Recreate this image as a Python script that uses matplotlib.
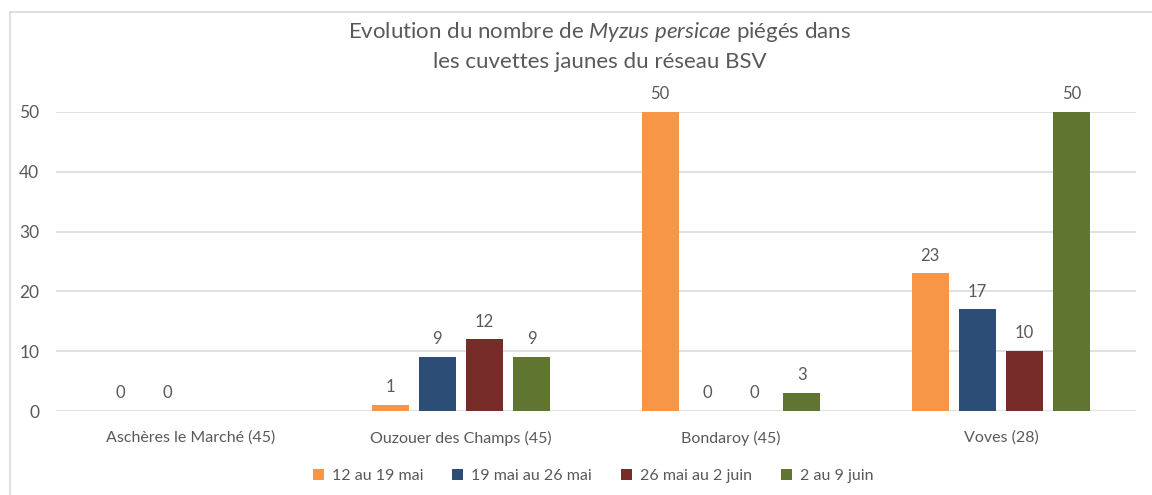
import matplotlib
matplotlib.use("Agg")

import matplotlib.pyplot as plt
from matplotlib.patches import Patch
from matplotlib.lines import Line2D
import numpy as np

plt.rcParams['font.family'] = ['Lato', 'DejaVu Sans']
plt.rcParams['mathtext.fontset'] = 'custom'
plt.rcParams['mathtext.rm'] = 'Lato'
plt.rcParams['mathtext.it'] = 'Lato:italic'

# données
sites = ["Aschères le Marché (45)", "Ouzouer des Champs (45)", "Bondaroy (45)", "Voves (28)"]
periodes = ["12 au 19 mai", "19 mai au 26 mai", "26 mai au 2 juin", "2 au 9 juin"]
s1 = [0, 1, 50, 23]
s2 = [0, 9, 0, 17]
s3 = [None, 12, 0, 10]
s4 = [None, 9, 3, 50]
yticks = [0, 10, 20, 30, 40, 50]

couleurs = ["#F79646", "#2C4D75", "#772C2A", "#5F7530"]
gris = "#595959"

fig = plt.figure(figsize=(11.52, 4.95), dpi=100)
ax = fig.add_axes([56 / 1152, 84 / 495, 1080 / 1152, 299 / 495])

x = np.arange(len(sites))
largeur = 0.1375
pas = 0.175
series = [s1, s2, s3, s4]
for i, (vals, c) in enumerate(zip(series, couleurs)):
    xs = x + (i - 1.5) * pas
    for xi, v in zip(xs, vals):
        if v is None:
            continue
        ax.bar(xi, v, width=largeur, color=c, zorder=3)
        ax.annotate(str(v), (xi, v), xytext=(0, 7), textcoords="offset points",
                    ha="center", va="bottom", fontsize=12, color=gris,
                    annotation_clip=False)

ax.set_xlim(-0.5, len(sites) - 0.5)
ax.set_ylim(0, 50)
ax.set_yticks(yticks)
ax.set_xticks(x)
ax.set_xticklabels(sites)
ax.yaxis.grid(True, color="#D9D9D9", linewidth=1.1, zorder=0)
ax.set_axisbelow(True)
for s in ax.spines.values():
    s.set_visible(False)
ax.tick_params(axis="both", length=0, labelsize=11.5, colors=gris)
ax.tick_params(axis="x", pad=14)
ax.tick_params(axis="y", pad=12, labelsize=12.5)

fig.text(600 / 1152, 1 - 32 / 495,
         r"Evolution du nombre de $\mathit{Myzus\ persicae}$ piégés dans",
         ha="center", va="center", fontsize=16, color=gris)
fig.text(600 / 1152, 1 - 62 / 495, "les cuvettes jaunes du réseau BSV",
         ha="center", va="center", fontsize=16, color=gris)

handles = [Patch(facecolor=c, edgecolor="none") for c in couleurs]
fig.legend(handles, periodes, loc="center", bbox_to_anchor=(593 / 1152, 1 - 476 / 495),
           ncol=4, frameon=False, fontsize=11.5, labelcolor=gris,
           handlelength=0.7, handleheight=0.7, handletextpad=0.5, columnspacing=1.8)

# cadre du graphique
fig.add_artist(Line2D([10 / 1152, 1], [1 - 12 / 495] * 2, transform=fig.transFigure,
                      color="#D9D9D9", linewidth=1.2))
fig.add_artist(Line2D([10 / 1152] * 2, [0, 1 - 12 / 495], transform=fig.transFigure,
                      color="#D9D9D9", linewidth=1.2))

fig.savefig("out.png", dpi=100)
